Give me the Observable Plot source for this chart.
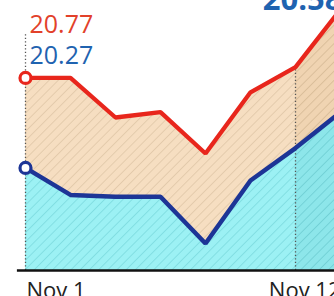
<!DOCTYPE html>
<html>
<head>
<meta charset="utf-8">
<script src="https://cdn.jsdelivr.net/npm/d3@7"></script>
<script src="https://cdn.jsdelivr.net/npm/@observablehq/plot@0.6"></script>
<style>
  html, body { margin: 0; padding: 0; background: #fff; overflow: hidden; }
</style>
</head>
<body>
<div id="chart"></div>
<script>
const dates = ["Nov 1", "Nov 2", "Nov 5", "Nov 6", "Nov 7", "Nov 8", "Nov 9", "Nov 12"];
const redValues = [20.77, 20.77, 20.55, 20.58, 20.35, 20.69, 20.83, 21.15];
const blueValues = [20.27, 20.12, 20.11, 20.11, 19.85, 20.20, 20.38, 20.58];
const tickLabels = ["Nov 1", "Nov 12"];
const highlightFrom = "Nov 9";
const yMin = 19.7, yMax = 21.2;

const data = dates.map((d, i) => ({i, date: d, red: redValues[i], blue: blueValues[i]}));
const hi = dates.indexOf(highlightFrom);
const last = dates.length - 1;
const recent = data.filter(d => d.i >= hi);

const plot = Plot.plot({
  width: 334,
  height: 296,
  marginLeft: 25,
  marginRight: 0,
  marginTop: 0,
  marginBottom: 26,
  style: {fontFamily: "Open Sans", background: "#fff"},
  x: {domain: [0, 309 / 45], axis: null},
  y: {domain: [yMin, yMax], axis: null},
  marks: [
    Plot.areaY(data, {x: "i", y1: yMin, y2: "blue", fill: "url(#hatchCyan)"}),
    Plot.areaY(data, {x: "i", y1: "blue", y2: "red", fill: "url(#hatchBeige)"}),
    Plot.areaY(recent, {x: "i", y1: yMin, y2: "blue", fill: "url(#hatchCyanDark)"}),
    Plot.areaY(recent, {x: "i", y1: "blue", y2: "red", fill: "url(#hatchBeigeDark)"}),
    Plot.ruleX([0], {x: d => d, y1: yMin, y2: 21.015, stroke: "#555", strokeWidth: 1.3, strokeDasharray: "1.3,2.2"}),
    Plot.ruleX([data[hi]], {x: "i", y1: yMin, y2: "red", stroke: "#555", strokeWidth: 1.3, strokeDasharray: "1.3,2.2"}),
    Plot.ruleY([yMin], {x1: -0.18, x2: last + 0.5, stroke: "#111", strokeWidth: 2.5}),
    Plot.line(data, {x: "i", y: "blue", stroke: "#1d3596", strokeWidth: 4.5, strokeLinejoin: "miter"}),
    Plot.line(data, {x: "i", y: "red", stroke: "#e8261c", strokeWidth: 4.3, strokeLinejoin: "miter"}),
    Plot.dot([data[0]], {x: "i", y: "blue", r: 5.5, fill: "#fff", stroke: "#1d3596", strokeWidth: 3.2}),
    Plot.dot([data[0]], {x: "i", y: "red", r: 5.5, fill: "#fff", stroke: "#e8261c", strokeWidth: 3.2}),
    // value labels, first point
    Plot.text([data[0]], {x: "i", text: d => d.red.toFixed(2), frameAnchor: "top", dy: 32, dx: 4, lineAnchor: "bottom", textAnchor: "start", fill: "#e2412a", fontSize: 25}),
    Plot.text([data[0]], {x: "i", text: d => d.blue.toFixed(2), frameAnchor: "top", dy: 63, dx: 4, lineAnchor: "bottom", textAnchor: "start", fill: "#1f63b0", fontSize: 25}),
    // value label, last point (blue, cut by the top edge as in the reference)
    Plot.text([data[last]], {x: "i", text: d => d.blue.toFixed(2), frameAnchor: "top", dy: 9, dx: 2, lineAnchor: "bottom", textAnchor: "end", fill: "#1f63b0", fontSize: 31, fontWeight: "bold"}),
    // x tick labels
    Plot.text(data.filter(d => d.date === tickLabels[0]), {x: "i", y: yMin, text: "date", dy: 27, dx: 1, lineAnchor: "bottom", textAnchor: "start", fill: "#222", fontSize: 22}),
    Plot.text(data.filter(d => d.date === tickLabels[1]), {x: "i", y: yMin, text: "date", dy: 27, lineAnchor: "bottom", textAnchor: "end", fill: "#222", fontSize: 22})
  ]
});

function hatch(id, base, line) {
  return `<pattern id="${id}" patternUnits="userSpaceOnUse" width="6.5" height="6.5" patternTransform="rotate(45)">
    <rect width="6.5" height="6.5" fill="${base}"/>
    <line x1="0.5" y1="0" x2="0.5" y2="6.5" stroke="${line}" stroke-width="0.8"/>
  </pattern>`;
}
d3.select(plot).insert("defs", ":first-child").html(
  hatch("hatchBeige", "#f6dec1", "#e0c6a6") +
  hatch("hatchCyan", "#9cf1f4", "#7bdade") +
  hatch("hatchBeigeDark", "#f0d4b2", "#d6b995") +
  hatch("hatchCyanDark", "#8de6ea", "#6ecdd3")
);
document.getElementById("chart").appendChild(plot);
</script>
</body>
</html>
